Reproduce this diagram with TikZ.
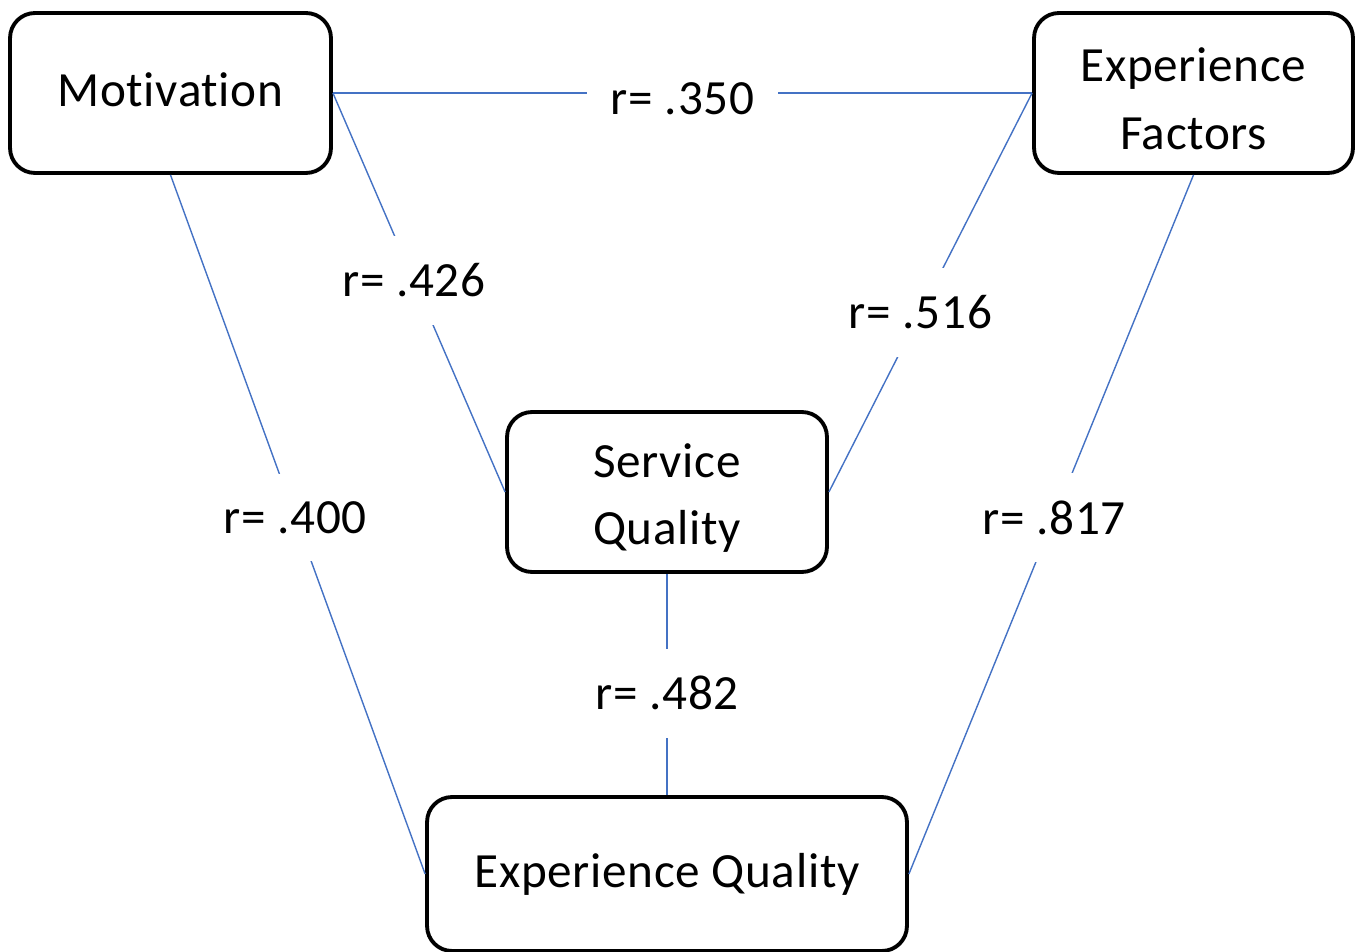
\documentclass[tikz,border=0pt]{standalone}
\usepackage{fontspec}
\setmainfont{Carlito}[Ligatures=CommonOff, LetterSpace=1.3]
\usepackage{xcolor}
\usepackage{tikz}
\usetikzlibrary{positioning, calc}
\definecolor{linkblue}{HTML}{4472C4}
\newcommand{\toprow}{\rule{0pt}{0.92cm}}

\begin{document}
\begin{tikzpicture}[
    x=0.02cm, y=-0.02cm,
    box/.style={rectangle, rounded corners=0.5cm, draw=black, line width=2.2pt, fill=white, minimum width=#1, minimum height=3.2cm, font=\fontsize{28}{38.5}\selectfont, align=center},
    link/.style={draw=linkblue, line width=0.8pt},
    rval/.style={fill=white, inner xsep=0.47cm, inner ysep=0.55cm, font=\fontsize{28}{37.5}\selectfont}
]
\useasboundingbox (0,0) rectangle (1355,952);

% Boxes
\node[box=6.42cm, text depth=0.12cm] (motiv) at (170.5,93) {Motivation};
\node[box=6.38cm] (expfac) at (1193.5,93) {\toprow Experience\\Factors};
\node[box=6.4cm] (servq) at (667,492) {\toprow Service\\Quality};
\node[box=9.6cm, minimum height=3.08cm] (expq) at (667,874) {Experience Quality};

% Correlations
\draw[link] (motiv.east) -- node[rval, yshift=-0.12cm] {r= .350} (expfac.west);
\draw[link] (motiv.east) -- node[rval, pos=0.47] {r= .426} (servq.west);
\draw[link] (expfac.west) -- node[rval, pos=0.55] {r= .516} (servq.east);
\draw[link] (motiv.south) -- node[rval, pos=0.49] {r= .400} (expq.west);
\draw[link] (expfac.south) -- node[rval, pos=0.49] {r= .817} (expq.east);
\draw[link] (servq.south) -- node[rval, pos=0.54] {r= .482} (expq.north);

\end{tikzpicture}
\end{document}
